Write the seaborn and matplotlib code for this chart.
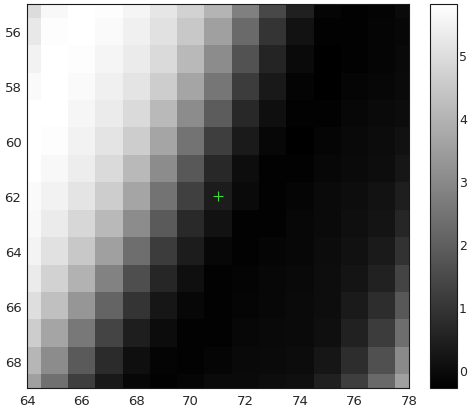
import numpy as np
import pandas as pd
import matplotlib.pyplot as plt
import seaborn as sns

# grid coordinates (cell centres)
cols = [64, 65, 66, 67, 68, 69, 70, 71, 72, 73, 74, 75, 76, 77, 78]
rows = [55, 56, 57, 58, 59, 60, 61, 62, 63, 64, 65, 66, 67, 68, 69]

# misfit values, one list per row (55 -> 69)
misfit = [
    [4.97, 5.64, 5.81, 5.76, 5.57, 5.21, 4.73, 4.02, 2.77, 1.43, 0.48, -0.15, -0.22, -0.19, -0.05],
    [5.26, 5.74, 5.81, 5.69, 5.45, 5.09, 4.49, 3.54, 2.25, 0.95, 0.14, -0.24, -0.24, -0.17, -0.10],
    [5.50, 5.81, 5.76, 5.57, 5.33, 4.92, 4.14, 3.06, 1.67, 0.57, -0.05, -0.27, -0.22, -0.15, -0.07],
    [5.69, 5.81, 5.69, 5.45, 5.16, 4.61, 3.66, 2.53, 1.15, 0.31, -0.19, -0.29, -0.17, -0.10, -0.05],
    [5.81, 5.79, 5.59, 5.33, 4.92, 4.14, 3.06, 1.91, 0.67, 0.09, -0.24, -0.22, -0.12, -0.05, 0.00],
    [5.81, 5.74, 5.50, 5.16, 4.61, 3.66, 2.46, 1.19, 0.33, -0.10, -0.27, -0.17, -0.07, 0.00, 0.12],
    [5.79, 5.64, 5.36, 4.92, 4.14, 3.06, 1.81, 0.67, 0.04, -0.24, -0.22, -0.12, -0.03, 0.04, 0.24],
    [5.69, 5.50, 5.16, 4.61, 3.66, 2.46, 1.24, 0.38, -0.05, -0.22, -0.15, -0.05, 0.04, 0.14, 0.43],
    [5.64, 5.33, 4.85, 4.14, 3.06, 1.86, 0.71, 0.14, -0.22, -0.24, -0.12, -0.03, 0.07, 0.19, 0.62],
    [5.52, 5.09, 4.49, 3.54, 2.34, 1.15, 0.38, -0.10, -0.24, -0.17, -0.10, 0.00, 0.12, 0.33, 0.91],
    [5.33, 4.73, 3.97, 2.82, 1.58, 0.62, 0.07, -0.22, -0.19, -0.12, -0.07, 0.02, 0.19, 0.52, 1.34],
    [5.02, 4.30, 3.30, 2.10, 0.95, 0.24, -0.10, -0.24, -0.15, -0.10, -0.05, 0.04, 0.33, 0.79, 1.81],
    [4.61, 3.66, 2.58, 1.34, 0.43, 0.00, -0.22, -0.22, -0.12, -0.07, -0.03, 0.09, 0.52, 1.15, 2.34],
    [4.06, 3.06, 1.86, 0.74, 0.09, -0.19, -0.24, -0.15, -0.07, -0.05, 0.00, 0.24, 0.79, 1.62, 3.01],
    [3.54, 2.39, 1.19, 0.31, -0.10, -0.24, -0.17, -0.05, -0.03, 0.02, 0.09, 0.48, 1.19, 2.22, 3.54],
]

x_ticks = [64, 66, 68, 70, 72, 74, 76, 78]
y_ticks = [56, 58, 60, 62, 64, 66, 68]
cbar_ticks = [0, 1, 2, 3, 4, 5]
marker_x, marker_y = 71, 62

df = pd.DataFrame(misfit, index=rows, columns=cols)

sns.set_style("white")
plt.rcParams['font.family'] = ['DejaVu Sans']
txt = '#262626'

fig = plt.figure(figsize=(4.69, 4.10), dpi=100)
ax = fig.add_axes([27 / 469, 21 / 410, 382 / 469, 384 / 410])
cax = fig.add_axes([430 / 469, 21 / 410, 27 / 469, 384 / 410])

sns.heatmap(df, cmap='gray', vmin=-0.29, vmax=5.81, ax=ax, cbar_ax=cax,
            xticklabels=False, yticklabels=False)

# cells are centred on the integer coordinates, half cells at the borders
ax.set_xlim(0.5, len(cols) - 0.5)
ax.set_ylim(len(rows) - 0.5, 0.5)
ax.set_xticks([cols.index(v) + 0.5 for v in x_ticks])
ax.set_xticklabels([str(v) for v in x_ticks])
ax.set_yticks([rows.index(v) + 0.5 for v in y_ticks])
ax.set_yticklabels([str(v) for v in y_ticks], rotation=0)
ax.set_xlabel('')
ax.set_ylabel('')

ax.plot(cols.index(marker_x) + 0.5, rows.index(marker_y) + 0.5, '+',
        color='#3cd83c', markersize=7, markeredgewidth=0.8)

for s in ax.spines.values():
    s.set_visible(True)
    s.set_color('#1a1a1a')
    s.set_linewidth(0.8)
ax.tick_params(direction='in', top=True, right=True, length=3, width=0.7,
               color='#1a1a1a', labelsize=9.5, labelcolor=txt, pad=4)

cb = ax.collections[0].colorbar
cb.set_ticks(cbar_ticks)
cb.outline.set_visible(True)
cb.outline.set_linewidth(0.8)
cb.outline.set_edgecolor('#1a1a1a')
cax.tick_params(direction='in', length=3, width=0.7, color='#1a1a1a',
                labelsize=9, labelcolor=txt, pad=1.5)

plt.savefig('out.png', dpi=100)
